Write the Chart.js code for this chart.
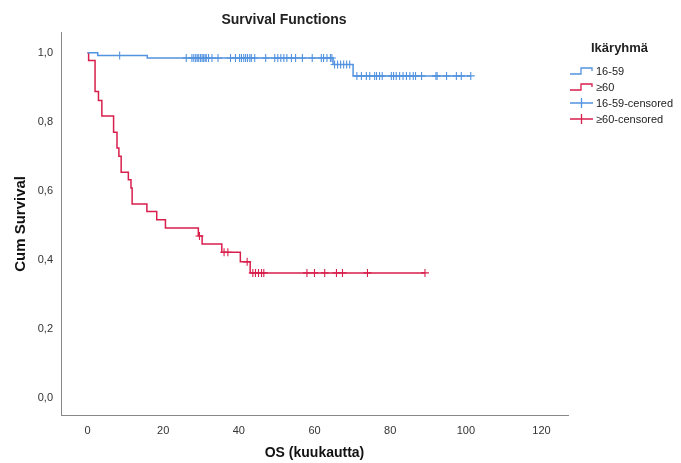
<!DOCTYPE html>
<html>
<head>
<meta charset="utf-8">
<title>Survival Functions</title>
<script src="https://cdn.jsdelivr.net/npm/chart.js@4.4.1/dist/chart.umd.min.js"></script>
<style>
  html, body { margin: 0; padding: 0; background: #fff; }
  #km-canvas { display: block; }
</style>
</head>
<body>
<canvas id="km-canvas" width="681" height="463"></canvas>
<script>
// Kaplan-Meier steps per age group (months, cumulative survival)
const groupNames = ["16-59", "\u226560"];
const youngTimes = [0, 2.7, 15.8, 64.9, 70.2, 101.3];
const youngSurv = [1.0, 0.992, 0.985, 0.966, 0.933, 0.933];
const youngCensored = [8.5, 26.1, 27.6, 28.1, 28.6, 29.0, 29.4, 29.9, 30.3, 30.7, 31.1, 31.4,
  32.0, 32.9, 34.5, 37.8, 39.1, 40.2, 40.7, 41.3, 41.8, 42.3, 42.9, 43.3, 44.2, 47.1, 49.5,
  50.3, 51.1, 51.9, 52.7, 53.9, 55.0, 56.8, 59.4, 61.8, 62.4, 63.3, 64.2, 64.6, 65.3, 66.1,
  66.9, 67.7, 68.5, 69.3, 71.2, 72.4, 73.7, 74.6, 75.9, 76.4, 77.2, 77.9, 80.3, 80.9, 81.6,
  82.5, 83.4, 84.3, 85.2, 86.1, 86.7, 88.3, 92.1, 92.4, 94.9, 97.5, 98.8, 101.3];
const oldTimes = [0, 0.3, 2.0, 2.9, 3.8, 6.9, 7.8, 8.3, 8.9, 10.8, 11.5, 11.8, 15.7, 18.3,
  20.6, 29.3, 30.3, 35.5, 40.4, 43.0, 89.2];
const oldSurv = [1.0, 0.978, 0.888, 0.862, 0.817, 0.770, 0.724, 0.700, 0.654, 0.632, 0.608,
  0.562, 0.540, 0.516, 0.492, 0.469, 0.446, 0.422, 0.394, 0.362, 0.362];
const oldCensored = [29.6, 36.1, 37.1, 42.2, 43.7, 44.4, 45.2, 46.0, 46.6, 58.0, 60.0, 62.7,
  65.8, 67.4, 74.0, 89.2];

const xTicks = [0, 20, 40, 60, 80, 100, 120];
const yTicks = [0, 0.2, 0.4, 0.6, 0.8, 1.0];

const blue = "#5393e0";
const red = "#d81f4c";
const fontFamily = "Arial, 'Liberation Sans', sans-serif";

function toPoints(times, surv) {
  return times.map(function(t, i) { return {x: t, y: surv[i]}; });
}

// survival level of the step curve at time t
function survAt(times, surv, t) {
  let s = surv[0];
  for (let i = 0; i < times.length; i++) {
    if (times[i] <= t) s = surv[i];
  }
  return s;
}

function censorPoints(cens, times, surv) {
  return cens.map(function(t) { return {x: t, y: survAt(times, surv, t)}; });
}

// legend drawn at the right side, SPSS style
const sideLegend = {
  id: "sideLegend",
  afterDraw(chart) {
    const ctx = chart.ctx;
    const x0 = 570, tx = 596;
    ctx.save();
    ctx.fillStyle = "#222";
    ctx.font = "bold 13px " + fontFamily;
    ctx.textBaseline = "middle";
    ctx.textAlign = "left";
    ctx.fillText("Ik\u00e4ryhm\u00e4", 591, 48);

    const rows = [
      {label: groupNames[0], color: blue, kind: "step", y: 71},
      {label: groupNames[1], color: red, kind: "step", y: 87},
      {label: groupNames[0] + "-censored", color: blue, kind: "cross", y: 103},
      {label: groupNames[1] + "-censored", color: red, kind: "cross", y: 119},
    ];
    ctx.font = "11px " + fontFamily;
    rows.forEach(function(r) {
      ctx.strokeStyle = r.color;
      ctx.lineWidth = 1.3;
      ctx.beginPath();
      if (r.kind === "step") {
        ctx.moveTo(x0, r.y + 3);
        ctx.lineTo(x0 + 11, r.y + 3);
        ctx.lineTo(x0 + 11, r.y - 3);
        ctx.lineTo(x0 + 22, r.y - 3);
        ctx.lineTo(x0 + 22, r.y);
      } else {
        ctx.moveTo(x0, r.y);
        ctx.lineTo(x0 + 23, r.y);
        ctx.moveTo(x0 + 11.5, r.y - 5);
        ctx.lineTo(x0 + 11.5, r.y + 5);
      }
      ctx.stroke();
      ctx.fillStyle = "#222";
      ctx.fillText(r.label, tx, r.y + 1);
    });
    ctx.restore();
  }
};

const canvas = document.querySelector("#km-canvas");

new Chart(canvas, {
  type: "line",
  data: {
    datasets: [
      {
        label: groupNames[0],
        data: toPoints(youngTimes, youngSurv),
        borderColor: blue,
        borderWidth: 1.5,
        stepped: true,
        pointRadius: 0,
        fill: false,
      },
      {
        label: groupNames[1],
        data: toPoints(oldTimes, oldSurv),
        borderColor: red,
        borderWidth: 1.5,
        stepped: true,
        pointRadius: 0,
        fill: false,
      },
      {
        label: groupNames[0] + "-censored",
        data: censorPoints(youngCensored, youngTimes, youngSurv),
        showLine: false,
        pointStyle: "cross",
        pointRadius: 4,
        pointBorderWidth: 1.1,
        pointBorderColor: blue,
        borderColor: blue,
      },
      {
        label: groupNames[1] + "-censored",
        data: censorPoints(oldCensored, oldTimes, oldSurv),
        showLine: false,
        pointStyle: "cross",
        pointRadius: 4,
        pointBorderWidth: 1.1,
        pointBorderColor: red,
        borderColor: red,
      },
    ]
  },
  options: {
    responsive: false,
    animation: false,
    devicePixelRatio: 1,
    layout: {padding: {left: 0, right: 113, top: 0, bottom: 0}},
    plugins: {
      legend: {display: false},
      tooltip: {enabled: false},
      title: {
        display: true,
        text: "Survival Functions",
        color: "#222",
        font: {family: fontFamily, size: 14, weight: "bold"},
        padding: {top: 12, bottom: 4},
      },
    },
    scales: {
      x: {
        type: "linear",
        min: -7,
        max: 127,
        grid: {display: false, drawTicks: false},
        border: {display: true, color: "#888", width: 1},
        afterBuildTicks: function(scale) {
          scale.ticks = xTicks.map(function(v) { return {value: v}; });
        },
        afterFit: function(scale) { scale.height = 48; },
        ticks: {
          color: "#333",
          padding: 9,
          font: {family: fontFamily, size: 11},
          maxRotation: 0,
          callback: function(v) { return String(v); },
        },
        title: {
          display: true,
          text: "OS (kuukautta)",
          color: "#111",
          font: {family: fontFamily, size: 14, weight: "bold"},
          padding: {top: 0, bottom: 1},
        },
      },
      y: {
        type: "linear",
        min: -0.05,
        max: 1.058,
        grid: {display: false, drawTicks: false},
        border: {display: true, color: "#888", width: 1},
        afterBuildTicks: function(scale) {
          scale.ticks = yTicks.map(function(v) { return {value: v}; });
        },
        afterFit: function(scale) { scale.width = 61; },
        ticks: {
          color: "#333",
          padding: 8,
          font: {family: fontFamily, size: 11},
          callback: function(v) { return v.toFixed(1).replace(".", ","); },
        },
        title: {
          display: true,
          text: "Cum Survival",
          color: "#111",
          font: {family: fontFamily, size: 15, weight: "bold"},
          padding: {top: 12, bottom: 0},
        },
      },
    },
  },
  plugins: [sideLegend],
});
</script>
</body>
</html>
